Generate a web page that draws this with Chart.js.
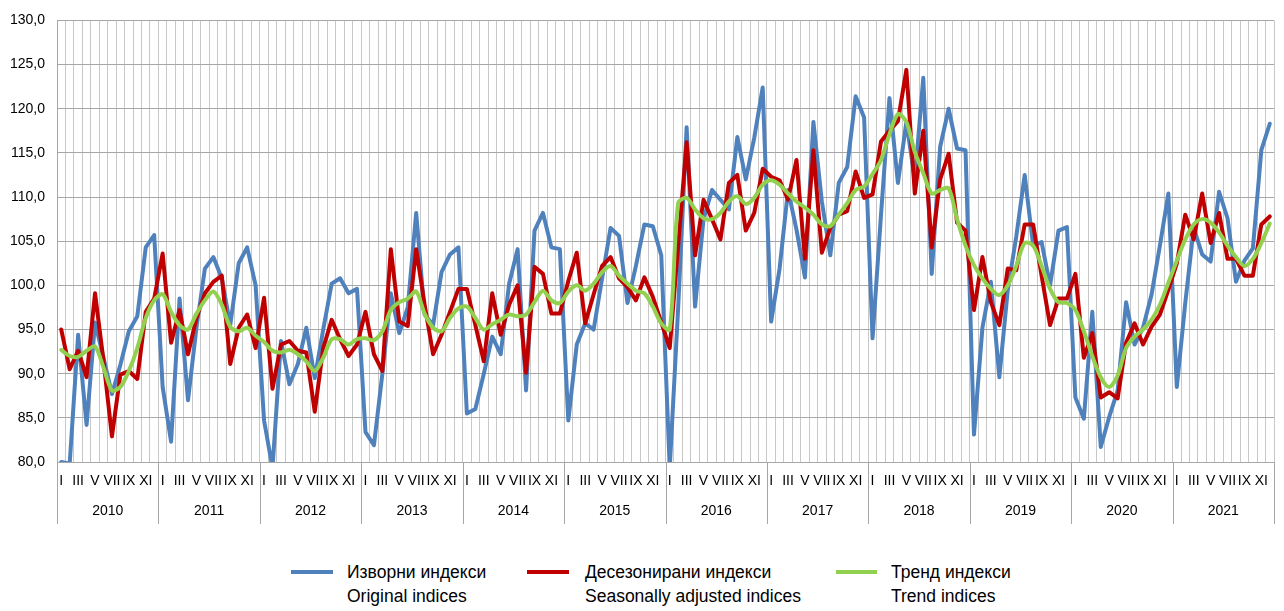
<!DOCTYPE html>
<html><head><meta charset="utf-8">
<script src="https://cdn.jsdelivr.net/npm/chart.js@4"></script>
<style>
html,body{margin:0;padding:0;background:#fff;}
#wrap{position:relative;width:1284px;height:611px;font-family:"Liberation Sans",Arial,sans-serif;overflow:hidden;}
#c{position:absolute;left:0;top:0;}
.leg{position:absolute;font-size:17.5px;line-height:24px;color:#000;white-space:nowrap;}
.sw{position:absolute;height:4px;}
</style></head>
<body><div id="wrap"><canvas id="c" width="1284" height="540"></canvas></div>
<script>
const years = [2010,2011,2012,2013,2014,2015,2016,2017,2018,2019,2020,2021];
const monthNames = ['I','II','III','IV','V','VI','VII','VIII','IX','X','XI','XII'];
const monthTickLabels = ['I','','III','','V','','VII','','IX','','XI',''];
const yTickMin = 80, yTickMax = 130, yTickStep = 5;

const seriesNamesBg = ['Изворни индекси','Десезонирани индекси','Тренд индекси'];
const seriesNamesEn = ['Original indices','Seasonally adjusted indices','Trend indices'];
const seriesColors = ['#4f81bd','#c00000','#92d050'];

const original = [
80.0, 79.8, 94.4, 84.2, 95.8, 91.8, 87.7, 91.0, 94.8, 96.5, 104.3, 105.7,
88.5, 82.3, 98.5, 87.0, 95.2, 101.9, 103.2, 100.8, 95.5, 102.5, 104.3, 100.0,
84.7, 79.3, 93.7, 88.8, 91.1, 95.2, 89.5, 95.0, 100.2, 100.8, 99.1, 99.6,
83.4, 81.9, 90.0, 99.1, 94.6, 97.5, 108.2, 96.7, 95.5, 101.5, 103.5, 104.3,
85.5, 86.0, 90.0, 94.2, 92.2, 100.2, 104.1, 88.1, 106.2, 108.2, 104.3, 104.1,
84.7, 93.3, 95.7, 95.0, 100.8, 106.5, 105.6, 98.0, 102.2, 106.9, 106.7, 103.4,
79.3, 97.5, 117.9, 97.6, 107.5, 110.8, 109.7, 108.6, 116.8, 112.0, 116.7, 122.4,
95.9, 101.9, 110.8, 106.3, 100.9, 118.5, 109.5, 103.4, 111.6, 113.4, 121.4, 119.0,
94.0, 108.0, 121.2, 111.6, 118.5, 112.0, 123.5, 101.3, 115.7, 120.0, 115.5, 115.3,
83.1, 95.2, 100.4, 89.6, 99.5, 105.5, 112.5, 104.5, 104.9, 100.0, 106.2, 106.6,
87.3, 84.9, 97.0, 81.7, 85.1, 88.1, 98.1, 93.3, 95.2, 98.9, 104.5, 110.4,
88.5, 98.0, 106.5, 103.5, 102.7, 110.6, 107.6, 100.4, 102.8, 104.2, 115.3, 118.3
];
const seasAdj = [
95.0, 90.5, 92.6, 89.6, 99.1, 91.5, 82.9, 89.9, 90.3, 89.4, 97.0, 98.5,
103.6, 93.5, 97.2, 92.2, 96.3, 99.1, 100.4, 101.1, 91.1, 95.2, 96.7, 92.9,
98.6, 88.3, 93.3, 93.7, 92.6, 92.4, 85.7, 92.9, 96.1, 93.9, 92.0, 93.3,
97.0, 92.2, 90.3, 104.1, 95.9, 95.4, 104.1, 97.8, 92.2, 94.4, 97.0, 99.6,
99.6, 95.5, 91.4, 99.1, 94.4, 97.8, 100.0, 90.1, 102.1, 101.3, 96.8, 96.8,
100.5, 103.7, 95.7, 99.0, 102.2, 103.2, 100.8, 99.8, 98.3, 100.9, 98.7, 95.8,
92.9, 104.5, 116.2, 103.4, 109.7, 107.5, 105.2, 111.6, 112.5, 106.2, 108.2, 113.2,
112.3, 111.9, 109.7, 114.2, 103.0, 115.3, 103.7, 106.5, 108.0, 108.4, 112.9, 109.9,
110.3, 116.3, 117.5, 118.6, 124.4, 110.4, 117.5, 104.3, 112.0, 114.9, 107.1, 106.2,
97.2, 103.2, 98.1, 95.5, 101.9, 101.7, 106.9, 106.9, 101.1, 95.5, 98.5, 98.5,
101.3, 91.8, 94.6, 87.3, 87.9, 87.2, 93.5, 95.7, 93.3, 95.3, 96.7, 99.5,
102.5, 108.0, 105.2, 110.4, 104.8, 108.2, 103.0, 103.0, 101.1, 101.1, 106.9, 107.8
];
const trend = [
92.7, 92.0, 91.9, 92.6, 93.1, 90.7, 88.1, 88.5, 90.3, 92.9, 96.3, 98.3,
99.0, 97.0, 95.5, 95.0, 96.8, 98.3, 99.3, 97.8, 95.3, 94.8, 95.2, 94.3,
93.6, 92.6, 92.4, 92.7, 92.2, 91.4, 90.3, 91.8, 93.9, 93.9, 93.3, 93.9,
94.0, 93.8, 94.8, 97.2, 98.1, 98.5, 99.3, 96.8, 95.2, 94.8, 96.3, 97.4,
97.6, 96.3, 95.0, 95.6, 96.1, 96.7, 96.5, 96.7, 98.1, 99.4, 98.3, 98.0,
99.3, 100.0, 99.4, 100.2, 101.5, 102.2, 101.1, 100.2, 99.4, 99.1, 97.6, 95.7,
95.0, 109.3, 109.9, 108.6, 107.6, 107.5, 108.2, 109.5, 110.1, 109.2, 109.9, 111.4,
111.9, 111.4, 110.4, 109.5, 108.8, 108.0, 106.9, 106.7, 108.0, 109.3, 110.8, 111.2,
112.6, 114.2, 117.1, 119.4, 118.5, 115.1, 112.7, 110.4, 110.8, 111.0, 107.5, 104.5,
102.3, 100.8, 99.6, 98.9, 100.0, 102.2, 104.8, 104.5, 102.2, 99.6, 98.1, 98.0,
97.2, 94.8, 92.0, 89.6, 88.5, 89.8, 92.9, 94.2, 95.0, 96.1, 97.8, 100.3,
102.8, 105.2, 106.9, 107.5, 107.1, 106.0, 104.5, 103.2, 102.2, 103.0, 104.8, 107.0
];

const FONT = '"Liberation Sans", Arial, sans-serif';
const labels = [];
years.forEach(y => monthNames.forEach(m => labels.push(m + ' ' + y)));

const yearSeparators = {
  id: 'yearSeparators',
  afterDraw(chart) {
    const ca = chart.chartArea;
    const ctx = chart.ctx;
    const n = years.length;
    ctx.save();
    ctx.strokeStyle = '#a6a6a6';
    ctx.lineWidth = 1;
    for (let k = 0; k <= n; k++) {
      const x = Math.round(ca.left + k * (ca.right - ca.left) / n) + 0.5;
      ctx.beginPath();
      ctx.moveTo(x, ca.bottom);
      ctx.lineTo(x, 524);
      ctx.stroke();
    }
    ctx.restore();
  }
};

// order: lower value is drawn on top (trend on top, original at the back)
const mk = (data, i, tension, order) => ({
  label: seriesNamesBg[i] + ' / ' + seriesNamesEn[i],
  data: data,
  order: order,
  borderColor: seriesColors[i],
  backgroundColor: seriesColors[i],
  borderWidth: 4,
  pointRadius: 0,
  pointHoverRadius: 0,
  tension: tension,
  fill: false,
  borderJoinStyle: 'round',
  borderCapStyle: 'round'
});

new Chart(document.getElementById('c'), {
  type: 'line',
  data: {
    labels: labels,
    datasets: [mk(original, 0, 0, 3), mk(seasAdj, 1, 0, 2), mk(trend, 2, 0.3, 1)]
  },
  options: {
    responsive: false,
    animation: false,
    devicePixelRatio: 1,
    layout: { padding: { left: 0, right: 10, top: 16, bottom: 0 } },
    plugins: { legend: { display: false }, tooltip: { enabled: false } },
    scales: {
      x: {
        type: 'category',
        position: 'bottom',
        offset: true,
        grid: { offset: true, color: '#c8c8c8', lineWidth: 1, drawTicks: false },
        border: { display: true, color: '#a6a6a6' },
        ticks: {
          autoSkip: false, maxRotation: 0, minRotation: 0, padding: 11,
          color: '#000', font: { size: 14, family: FONT },
          callback: (v, i) => monthTickLabels[i % 12]
        },
        afterFit: s => { s.height = 35; }
      },
      x2: {
        type: 'category',
        position: 'bottom',
        labels: years.map(String),
        offset: true,
        grid: { display: false, drawTicks: false },
        border: { display: false },
        ticks: { autoSkip: false, maxRotation: 0, padding: 6, color: '#000', font: { size: 14, family: FONT } },
        afterFit: s => { s.height = 43; }
      },
      y: {
        min: yTickMin, max: yTickMax,
        ticks: {
          stepSize: yTickStep, padding: 12, color: '#000', font: { size: 14, family: FONT },
          callback: v => v.toFixed(1).replace('.', ',')
        },
        grid: { color: '#a6a6a6', lineWidth: 1, drawTicks: false },
        border: { display: true, color: '#a6a6a6' },
        afterFit: s => { s.width = 57; }
      }
    }
  },
  plugins: [yearSeparators]
});

// HTML legend (two-line labels)
const legendPos = [
  { sw: 291, swW: 42, tx: 347 },
  { sw: 527, swW: 42, tx: 585 },
  { sw: 836, swW: 41, tx: 891 }
];
const wrap = document.getElementById('wrap');
legendPos.forEach((p, i) => {
  const sw = document.createElement('div');
  sw.className = 'sw';
  sw.style.left = p.sw + 'px';
  sw.style.top = '570px';
  sw.style.width = p.swW + 'px';
  sw.style.background = seriesColors[i];
  wrap.appendChild(sw);
  const t = document.createElement('div');
  t.className = 'leg';
  t.style.left = p.tx + 'px';
  t.style.top = '560px';
  t.innerHTML = seriesNamesBg[i] + '<br>' + seriesNamesEn[i];
  wrap.appendChild(t);
});
</script>
</body></html>
